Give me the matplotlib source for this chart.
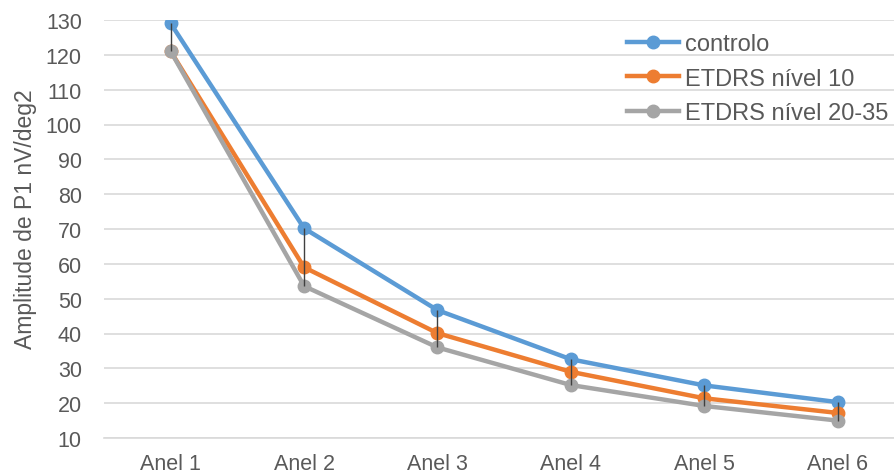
import numpy as np
import matplotlib.pyplot as plt

plt.rcParams.update({'font.family': ['Liberation Sans', 'DejaVu Sans'], 'font.size': 15.5})

# Amplitude P1 per ring, three groups
rings = ['Anel 1', 'Anel 2', 'Anel 3', 'Anel 4', 'Anel 5', 'Anel 6']
controlo = [129.0, 70.2, 46.7, 32.6, 25.1, 20.3]
etdrs_10 = [121.0, 59.0, 40.1, 29.0, 21.4, 17.2]
etdrs_20_35 = [121.0, 53.6, 36.0, 25.2, 19.2, 15.0]

text_grey = '#595959'
grid_grey = '#d9d9d9'

fig = plt.figure(figsize=(8.95, 4.77), dpi=100)
ax = fig.add_axes([104/895, 38/477, 791/895, 418/477])

x = np.arange(len(rings))

# high-low lines between the top and bottom series
hi = np.maximum.reduce([controlo, etdrs_10, etdrs_20_35])
lo = np.minimum.reduce([controlo, etdrs_10, etdrs_20_35])
ax.vlines(x, lo, hi, color='#404040', linewidth=1.0, zorder=4)

ax.plot(x, controlo, color='#5B9BD5', lw=3.2, marker='o', ms=9, label='controlo', zorder=3)
ax.plot(x, etdrs_10, color='#ED7D31', lw=3.2, marker='o', ms=9, label='ETDRS nível 10', zorder=3)
ax.plot(x, etdrs_20_35, color='#A5A5A5', lw=3.2, marker='o', ms=9, label='ETDRS nível 20-35', zorder=3)

ax.set_xlim(-0.5, 5.43)
ax.set_ylim(10, 130)
ax.set_yticks(np.arange(10, 131, 10))
ax.set_xticks(x)
ax.set_xticklabels(rings)
ax.yaxis.grid(True, color=grid_grey, linewidth=1.2)
ax.set_axisbelow(True)
for s in ['top', 'right', 'left']:
    ax.spines[s].set_visible(False)
ax.spines['bottom'].set_color(grid_grey)
ax.spines['bottom'].set_linewidth(1.2)
ax.tick_params(length=0, colors=text_grey, labelsize=15.5)
ax.tick_params(axis='y', pad=16)
ax.tick_params(axis='x', pad=11)

ax.set_ylabel('Amplitude de P1 nV/deg2', color=text_grey, fontsize=16.5)
ax.yaxis.set_label_coords(-0.085, 0.526)

leg = ax.legend(loc='upper left', bbox_to_anchor=(627/895, 443/477), bbox_transform=fig.transFigure,
                frameon=False, fontsize=17, borderpad=0, borderaxespad=0,
                handlelength=2.2, labelspacing=0.54, handletextpad=0.25, labelcolor=text_grey)

fig.savefig('out.png', dpi=100)
